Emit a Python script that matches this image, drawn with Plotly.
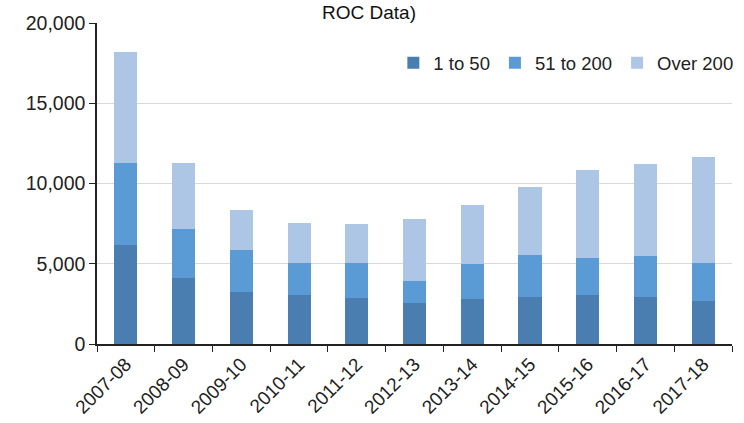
import plotly.graph_objects as go

years = ["2007-08", "2008-09", "2009-10", "2010-11", "2011-12", "2012-13",
         "2013-14", "2014-15", "2015-16", "2016-17", "2017-18"]
totals_small = [6180, 4110, 3240, 3030, 2840, 2550, 2780, 2925, 3030, 2925, 2700]
cum_mid = [11260, 7175, 5830, 5040, 5040, 3920, 4960, 5520, 5350, 5455, 5040]
cum_total = [18200, 11260, 8340, 7550, 7470, 7800, 8670, 9770, 10870, 11200, 11680]

s1 = totals_small
s2 = [m - a for m, a in zip(cum_mid, totals_small)]
s3 = [t - m for t, m in zip(cum_total, cum_mid)]

series = [("1 to 50", s1, "#4a7eb1"), ("51 to 200", s2, "#5b9bd5"), ("Over 200", s3, "#adc6e6")]

fig = go.Figure()
for name, vals, col in series:
    fig.add_trace(go.Bar(x=years, y=vals, name=name, marker_color=col,
                         marker_line_width=0))

fig.update_layout(
    barmode="stack", bargap=0.6,
    width=744, height=423,
    margin=dict(l=97, r=6, t=23, b=79),
    paper_bgcolor="white", plot_bgcolor="white",
    font=dict(family="Liberation Sans, Arial", color="#222"),
    legend=dict(orientation="h", x=1.01, xanchor="right", y=0.875, yanchor="middle",
                font=dict(size=18.5), traceorder="normal", itemwidth=30,
                bgcolor="rgba(0,0,0,0)"),
    showlegend=True,
)
fig.update_yaxes(range=[0, 20000], tickvals=[0, 5000, 10000, 15000, 20000],
                 tickformat=",", showgrid=True, gridcolor="#d9d9d9", gridwidth=1,
                 showline=True, linecolor="#222", linewidth=1.5,
                 ticks="outside", ticklen=6, tickcolor="#222",
                 tickfont=dict(size=19.5), zeroline=False)
fig.update_xaxes(type="category", showline=True, linecolor="#222", linewidth=1.5,
                 ticks="outside", ticklen=6, tickcolor="#222", tickson="boundaries",
                 tickangle=-45, tickfont=dict(size=19))
fig.add_annotation(text="ROC Data)", xref="paper", yref="paper", x=(372-97)/641,
                   y=1 + 23 / 321, xanchor="center", yanchor="top",
                   showarrow=False, font=dict(size=19, color="#111"))
fig.write_html("out.html")
